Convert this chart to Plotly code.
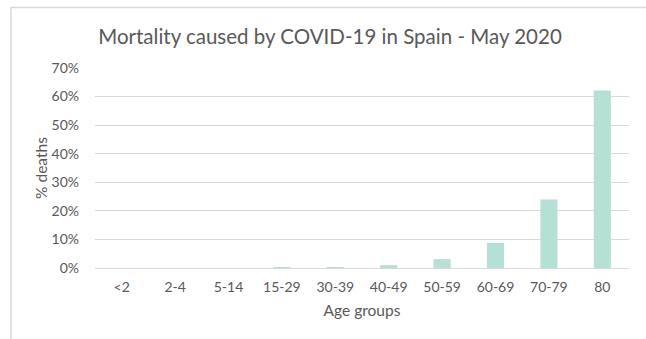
import plotly.graph_objects as go

age_groups = ["<2", "2-4", "5-14", "15-29", "30-39", "40-49", "50-59", "60-69", "70-79", "80"]
pct_deaths = [0.0, 0.0, 0.0, 0.05, 0.3, 1.0, 3.1, 8.8, 24.0, 62.1]
y_ticks = [0, 10, 20, 30, 40, 50, 60, 70]
y_tick_labels = [f"{v}%" for v in y_ticks]

W, H = 646, 339
L, R, T, B = 95, 17, 68, 71
pw, ph = W - L - R, H - T - B

fig = go.Figure(go.Bar(x=age_groups, y=pct_deaths, marker=dict(color="#b5e0d6", line=dict(width=0))))

font = "Lato, Open Sans, sans-serif"
fig.update_layout(
    width=W, height=H,
    margin=dict(l=L, r=R, t=T, b=B, autoexpand=False),
    paper_bgcolor="white", plot_bgcolor="white",
    bargap=0.68,
    showlegend=False,
    font=dict(family=font, color="#595959", size=14),
    title=dict(text="Mortality caused by COVID-19 in Spain - May 2020",
               x=330 / W, xanchor="center", y=1 - 37 / H, yanchor="middle",
               font=dict(size=20.5, color="#595959", family=font)),
    xaxis=dict(showgrid=False, showline=False, ticks="", tickfont=dict(size=14),
               automargin=False, ticklabelstandoff=9,
               title=dict(text="Age groups", font=dict(size=15.5), standoff=11)),
    yaxis=dict(range=[0, 70], tickvals=y_ticks, ticktext=y_tick_labels,
               showgrid=True, gridcolor="#d9d9d9", gridwidth=1, zeroline=True,
               zerolinecolor="#d9d9d9", zerolinewidth=1, showline=False, ticks="",
               automargin=False, ticklabelstandoff=15, tickfont=dict(size=14),
               title=dict(text="% deaths", font=dict(size=15.5), standoff=0)),
    shapes=[dict(type="rect", xref="paper", yref="paper",
                 x0=(11 - L) / pw, x1=(720 - L) / pw,
                 y0=(H - 7.5 - B) / ph, y1=-(120) / ph,
                 line=dict(color="#d9d9d9", width=1.5), fillcolor="rgba(0,0,0,0)", layer="below")],
)

fig.write_html("out.html", config={"displayModeBar": False},
               post_script="document.body.style.margin='0';document.body.style.overflow='hidden';")
